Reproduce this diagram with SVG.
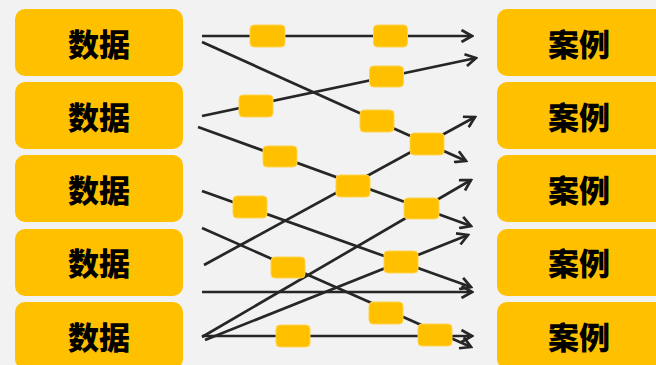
<svg xmlns="http://www.w3.org/2000/svg" width="656" height="365" viewBox="0 0 656 365">
<defs>
<style>
.big{fill:#FFC000;}
.lbl{font-family:"Noto Sans CJK SC","Noto Sans",sans-serif;font-weight:900;font-size:31px;fill:#000;text-anchor:middle;dominant-baseline:central;}
.ln{stroke:#262626;stroke-width:2.7;fill:none;marker-end:url(#ah);}
.sm{fill:#FFC000;stroke:#FFD34D;stroke-width:1;}
</style>
<marker id="ah" markerUnits="userSpaceOnUse" viewBox="0 0 14 14" refX="12" refY="7" markerWidth="14" markerHeight="14" orient="auto">
<path d="M1.5,1 L12,7 L1.5,13" fill="none" stroke="#262626" stroke-width="2.7"/>
</marker>
</defs>
<rect width="656" height="365" fill="#F2F2F2"/>
<g id="connectors">
<line class="ln" x1="202" y1="36" x2="472" y2="36"/>
<line class="ln" x1="202" y1="42" x2="466" y2="161"/>
<line class="ln" x1="202" y1="116" x2="476" y2="58"/>
<line class="ln" x1="198" y1="127" x2="471" y2="226"/>
<line class="ln" x1="204" y1="265" x2="475" y2="117"/>
<line class="ln" x1="202" y1="191" x2="471" y2="287"/>
<line class="ln" x1="202" y1="228" x2="471" y2="347"/>
<line class="ln" x1="202" y1="292" x2="472" y2="292"/>
<line class="ln" x1="202" y1="336" x2="472" y2="336"/>
<line class="ln" x1="202" y1="337" x2="471" y2="180"/>
<line class="ln" x1="205" y1="340" x2="468" y2="235"/>
</g>
<g id="smallboxes">
<rect class="sm" x="250" y="25" width="35" height="22" rx="4"/>
<rect class="sm" x="373.5" y="25" width="34" height="22" rx="4"/>
<rect class="sm" x="369.5" y="66" width="34" height="21" rx="4"/>
<rect class="sm" x="239" y="95" width="34" height="22" rx="4"/>
<rect class="sm" x="360" y="110" width="34" height="22" rx="4"/>
<rect class="sm" x="410" y="133" width="34" height="22" rx="4"/>
<rect class="sm" x="263" y="146" width="34" height="21" rx="4"/>
<rect class="sm" x="336" y="175" width="34" height="22" rx="4"/>
<rect class="sm" x="233" y="196" width="34" height="22" rx="4"/>
<rect class="sm" x="404" y="198" width="35" height="21" rx="4"/>
<rect class="sm" x="271" y="257" width="34" height="21" rx="4"/>
<rect class="sm" x="384" y="251" width="34" height="22" rx="4"/>
<rect class="sm" x="369" y="302" width="34" height="22" rx="4"/>
<rect class="sm" x="276" y="325" width="34" height="22" rx="4"/>
<rect class="sm" x="418" y="324" width="34" height="22" rx="4"/>
</g>
<g id="data1"><rect class="big" x="15" y="9" width="168" height="67" rx="10"/><text class="lbl" x="99" y="42">数据</text></g>
<g id="data2"><rect class="big" x="15" y="82" width="168" height="67" rx="10"/><text class="lbl" x="99" y="115">数据</text></g>
<g id="data3"><rect class="big" x="15" y="155" width="168" height="67" rx="10"/><text class="lbl" x="99" y="188">数据</text></g>
<g id="data4"><rect class="big" x="15" y="229" width="168" height="67" rx="10"/><text class="lbl" x="99" y="261">数据</text></g>
<g id="data5"><rect class="big" x="15" y="302" width="168" height="67" rx="10"/><text class="lbl" x="99" y="335">数据</text></g>
<g id="case1"><rect class="big" x="497" y="9" width="175" height="67" rx="10"/><text class="lbl" x="579" y="42">案例</text></g>
<g id="case2"><rect class="big" x="497" y="82" width="175" height="67" rx="10"/><text class="lbl" x="579" y="115">案例</text></g>
<g id="case3"><rect class="big" x="497" y="155" width="175" height="67" rx="10"/><text class="lbl" x="579" y="188">案例</text></g>
<g id="case4"><rect class="big" x="497" y="229" width="175" height="67" rx="10"/><text class="lbl" x="579" y="261">案例</text></g>
<g id="case5"><rect class="big" x="497" y="302" width="175" height="67" rx="10"/><text class="lbl" x="579" y="335">案例</text></g>
</svg>
